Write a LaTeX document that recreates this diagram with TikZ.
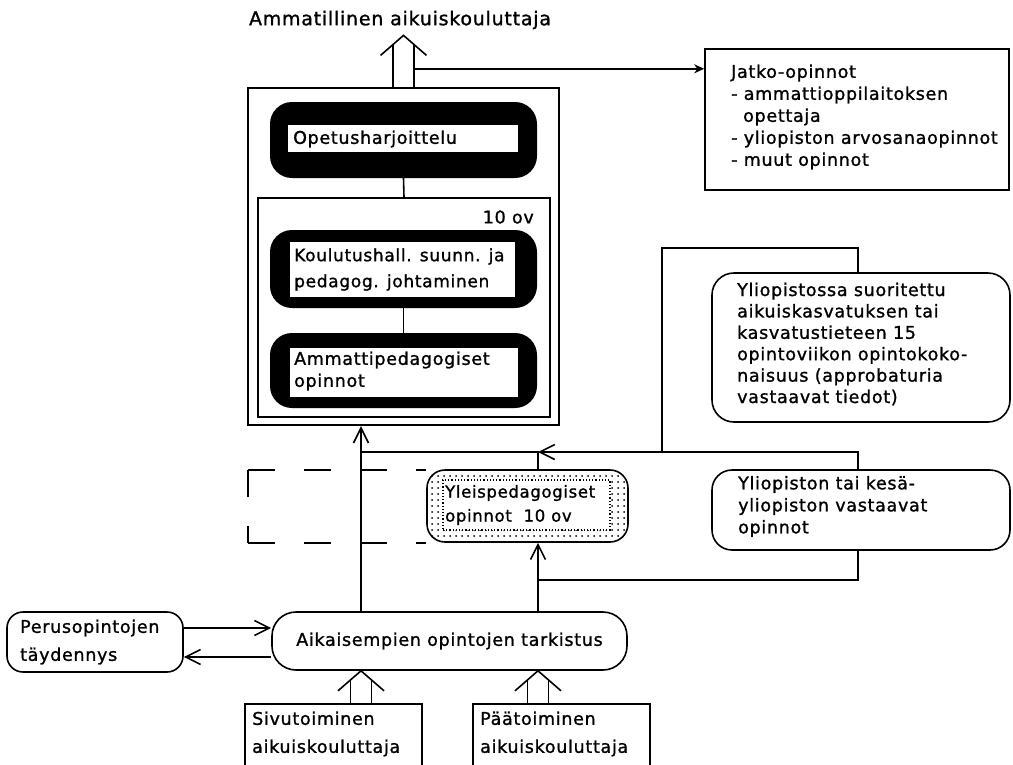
\documentclass[tikz,border=0pt]{standalone}
\usepackage{fontspec}
\setmainfont{DejaVu Sans}
\newfontfamily\diafont[LetterSpace=4, RawFeature={embolden=1.2}]{DejaVu Sans}
\usetikzlibrary{arrows.meta,positioning,calc,patterns.meta}

\begin{document}
\begin{tikzpicture}[
  x=1pt, y=-1pt,
  ln/.style={line width=1.6pt},
  arr/.style={ln, -{Straight Barb[length=15pt,width=15pt]}},
  harr/.style={ln, -{Stealth[length=10pt,width=9pt]}},
  boxframe/.style={draw, ln, inner sep=0pt},
  roundframe/.style={boxframe, rounded corners=18pt},
  blackframe/.style={fill=black, rounded corners=22pt, inner sep=0pt},
  whiteslot/.style={fill=white, inner sep=0pt},
  dashline/.style={ln, dash pattern=on 27pt off 29pt},
  lbl/.style={font=\diafont\fontsize{17.5}{22}\selectfont, align=left, inner sep=0pt},
  lblwide/.style={lbl, font=\diafont\fontsize{17.5}{28}\selectfont}
]
\useasboundingbox (0,0) rectangle (1013,764);

\coordinate (colA) at (361,0);
\coordinate (colB) at (538,0);
\coordinate (colC) at (858,0);
\coordinate (colD) at (662,0);
\coordinate (jn) at (538,452);
\coordinate (tp) at (662,248);
\coordinate (bj) at (538,580);
\coordinate (dl) at (248,470);

\node[lbl, font=\diafont\fontsize{19}{22}\selectfont] (title) at (400,20) {Ammatillinen aikuiskouluttaja};

\node[boxframe, line width=2.4pt, minimum width=311pt, minimum height=337pt] (outer) at (403.5,256.5) {};
\node[boxframe, minimum width=292pt, minimum height=219pt] (inner) at (404,307.5) {};
\node[lbl, anchor=east] (tenov) at (534,217) {10 ov};

\node[blackframe, minimum width=267pt, minimum height=76pt] (opetus) at (403.5,140) {};
\node[whiteslot, minimum width=230pt, minimum height=27pt] (opetusslot) at (403,138.5) {};
\node[lbl, anchor=west] (opetustxt) at (293,139) {Opetusharjoittelu};

\node[blackframe, minimum width=267pt, minimum height=78pt] (koulut) at (403.5,269) {};
\node[whiteslot, minimum width=225pt, minimum height=55pt] (koulutslot) at (402.5,269.5) {};
\node[lbl, anchor=west, font=\diafont\fontsize{17}{26}\selectfont] (koulutxt) at (294,269.5) {Koulutushall. suunn. ja\\pedagog. johtaminen};

\node[blackframe, minimum width=267pt, minimum height=75pt] (ammatti) at (403.5,370.5) {};
\node[whiteslot, minimum width=228pt, minimum height=49pt] (ammattislot) at (404,372.5) {};
\node[lbl, anchor=west] (ammattitxt) at (294,371) {Ammattipedagogiset\\opinnot};

\node[boxframe, minimum width=304pt, minimum height=141pt] (jatko) at (857,119.5) {};
\node[lbl, anchor=west] (jatkotxt) at (731,117) {Jatko-opinnot\\- ammattioppilaitoksen\\\hspace*{12pt}opettaja\\- yliopiston arvosanaopinnot\\- muut opinnot};

\node[roundframe, rounded corners=22pt, minimum width=298pt, minimum height=149pt] (ylisuor) at (861,347.5) {};
\node[lbl, anchor=west, font=\diafont\fontsize{17.5}{21.4}\selectfont] (ylisuortxt) at (737,344) {Yliopistossa suoritettu\\aikuiskasvatuksen tai\\kasvatustieteen 15\\opintoviikon opintokoko-\\naisuus (approbaturia\\vastaavat tiedot)};

\node[roundframe, rounded corners=20pt, minimum width=298pt, minimum height=80pt] (ylivast) at (861,510) {};
\node[lbl, anchor=west] (ylivasttxt) at (738,506.5) {Yliopiston tai kesä-\\yliopiston vastaavat\\opinnot};

\node[roundframe, pattern={Dots[distance=6pt, radius=1pt]}, minimum width=201pt, minimum height=72pt] (ylei) at (527.5,506) {};
\node[whiteslot, draw, dotted, line width=1.2pt, minimum width=167pt, minimum height=50pt] (yleislot) at (526.5,505) {};
\node[lbl, anchor=west, font=\diafont\fontsize{16.5}{24}\selectfont] (yleitxt) at (445,505) {Yleispedagogiset\\opinnot\ \ 10 ov};

\node[roundframe, rounded corners=16pt, minimum width=176pt, minimum height=60pt] (perus) at (95,642) {};
\node[lblwide, anchor=west] (perustxt) at (20,642) {Perusopintojen\\täydennys};

\node[roundframe, rounded corners=24pt, minimum width=355pt, minimum height=58pt, font=\diafont\fontsize{17.5}{22}\selectfont] (aik) at (449.5,641) {Aikaisempien opintojen tarkistus};

\node[boxframe, minimum width=177pt, minimum height=62pt] (sivu) at (333.5,735) {};
\node[lblwide, anchor=west] (sivutxt) at (252,734) {Sivutoiminen\\aikuiskouluttaja};
\node[boxframe, minimum width=177pt, minimum height=62pt] (paa) at (561.5,735) {};
\node[lblwide, anchor=west] (paatxt) at (480,734) {Päätoiminen\\aikuiskouluttaja};

\coordinate (tipT) at ($(title.south -| outer.north)+(0,6)$);
\coordinate (tipS) at (colA |- aik.south);
\coordinate (tipP) at (colB |- aik.south);
\foreach \tip/\base in {tipT/outer.north, tipS/sivu.north, tipP/paa.north} {
  \draw[ln] ($(\tip)+(-23,20)$) -- (\tip) -- ($(\tip)+(23,20)$);
  \draw[ln] ($(\tip)+(-10.5,9.5)$) -- ($(\tip |- \base)+(-10.5,0)$);
  \draw[ln] ($(\tip)+(10.5,9.5)$) -- ($(\tip |- \base)+(10.5,0)$);
}
\draw[harr] ($(outer.north)+(10.5,-18)$) -- ($(outer.north -| jatko.west)+(0,-18)$);

\draw[ln] (opetus.south) -- (inner.north);
\draw[ln] (koulut.south) -- (ammatti.north);

\draw[arr] (colA |- aik.north) -- (colA |- outer.south);
\draw[ln] (colB |- ylei.north) -- (jn) -- (jn -| colA);
\draw[arr] (colC |- ylivast.north) |- (jn);
\draw[ln] (colC |- ylisuor.north) |- (tp) -- (tp |- jn);
\draw[arr] (colB |- aik.north) -- (colB |- ylei.south);
\draw[ln] (colC |- ylivast.south) |- (bj);

\draw[arr] (perus.east |- 0,628) -- (aik.west |- 0,628);
\draw[arr] (aik.west |- 0,657) -- (perus.east |- 0,657);

\draw[dashline] (dl) -- (dl -| ylei.west);
\draw[dashline] (dl) -- (dl |- ylei.south);
\draw[dashline] (dl |- ylei.south) -- (ylei.south west);
\end{tikzpicture}
\end{document}
